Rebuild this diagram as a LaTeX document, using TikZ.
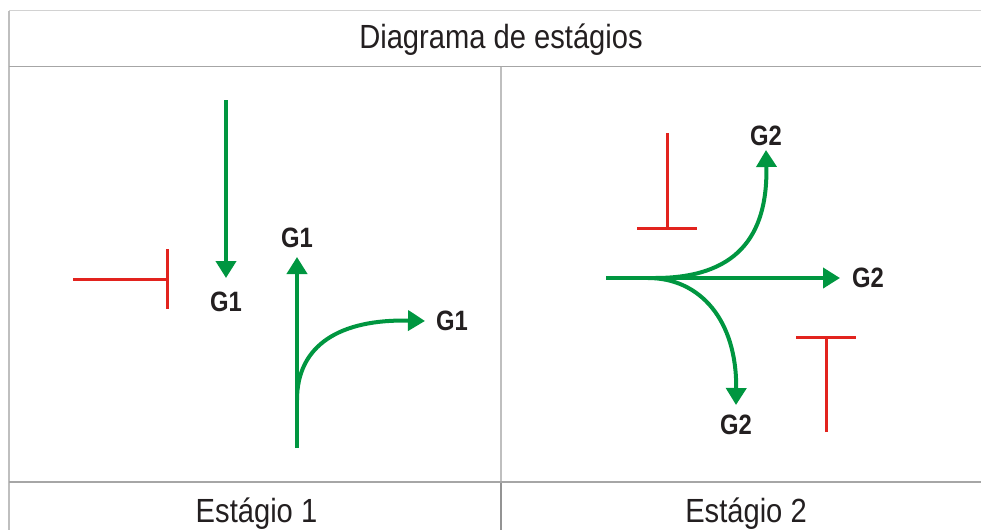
\documentclass[tikz,border=0pt]{standalone}
\usepackage{fontspec}
\setmainfont{Liberation Sans}
\usetikzlibrary{arrows.meta,positioning}
\definecolor{verdeseta}{RGB}{0,150,64}
\definecolor{vermelho}{RGB}{226,35,30}
\definecolor{texto}{RGB}{35,31,32}
\newcommand{\estreito}[2]{\scalebox{#1}[1]{#2}}

\begin{document}
\begin{tikzpicture}[x=1pt,y=-1pt,>={Triangle[length=17pt,width=20pt]}]
  \tikzstyle{grade}=[line width=1.2pt]
  \tikzstyle{ativa}=[draw=verdeseta,line width=4pt,->]
  \tikzstyle{inibe}=[draw=vermelho,line width=3pt]
  \tikzstyle{rotulo}=[inner sep=0pt,text=texto,font=\bfseries\fontsize{28}{28}\selectfont]
  \tikzstyle{titulo}=[inner sep=0pt,anchor=base,text=texto,font=\fontsize{33.5}{33.5}\selectfont]
  \useasboundingbox (0,0) rectangle (981,530);
  % tabela
  \draw[grade,gray!35] (9,10.5) -- (981,10.5);
  \draw[grade,gray!50] (9,10.5) -- (9,530);
  \draw[grade,gray!70,line width=1.6pt] (9,66.5) -- (981,66.5);
  \draw[grade,gray!50] (501,66.5) -- (501,482);
  \draw[grade,gray!85] (501,482) -- (501,530);
  \draw[grade,gray!70,line width=1.6pt] (9,482) -- (981,482);
  \node[titulo] (cab) at (501,48) {\estreito{0.87}{Diagrama de estágios}};
  \node[titulo] (est1) at (256.5,522) {\estreito{0.87}{Estágio 1}};
  \node[titulo] (est2) at (746,522) {\estreito{0.87}{Estágio 2}};
  % estagio 1
  \coordinate (s1) at (226,100);
  \coordinate (p1) at (226,278);
  \draw[ativa] (s1) -- (p1);
  \node[rotulo,below=14pt of p1] (g1a) {\estreito{0.85}{G1}};
  \coordinate (b1) at (297,448);
  \coordinate (c1) at (297,257);
  \draw[ativa] (b1) -- (c1);
  \node[rotulo,above=9pt of c1] (g1b) {\estreito{0.85}{G1}};
  \coordinate (r1) at (297,400);
  \coordinate (d1) at (425,321);
  \draw[ativa] (r1) .. controls (297,345) and (340,319) .. (d1);
  \node[rotulo,right=11pt of d1] (g1c) {\estreito{0.85}{G1}};
  \coordinate (h1) at (73,279);
  \coordinate (t1) at (167,279);
  \draw[inibe] (h1) -- (t1);
  \draw[inibe] ([yshift=30pt]t1) -- ([yshift=-30pt]t1);
  % estagio 2
  \coordinate (s2) at (606,278);
  \coordinate (p2) at (840,278);
  \draw[ativa] (s2) -- (p2);
  \node[rotulo,right=12pt of p2] (g2a) {\estreito{0.85}{G2}};
  \coordinate (r2) at (655,278);
  \coordinate (q2) at (766,150);
  \draw[ativa] (r2) .. controls (735,278) and (768,238) .. (q2);
  \node[rotulo,above=4pt of q2] (g2b) {\estreito{0.85}{G2}};
  \coordinate (r3) at (648,278);
  \coordinate (q3) at (736,405);
  \draw[ativa] (r3) .. controls (700,278) and (737,320) .. (q3);
  \node[rotulo,below=10pt of q3] (g2c) {\estreito{0.85}{G2}};
  \coordinate (h2) at (667,133);
  \coordinate (t2) at (667,228);
  \draw[inibe] (h2) -- (t2);
  \draw[inibe] ([xshift=-30pt]t2) -- ([xshift=30pt]t2);
  \coordinate (h3) at (826,432);
  \coordinate (t3) at (826,337);
  \draw[inibe] (h3) -- (t3);
  \draw[inibe] ([xshift=-30pt]t3) -- ([xshift=30pt]t3);
\end{tikzpicture}
\end{document}
